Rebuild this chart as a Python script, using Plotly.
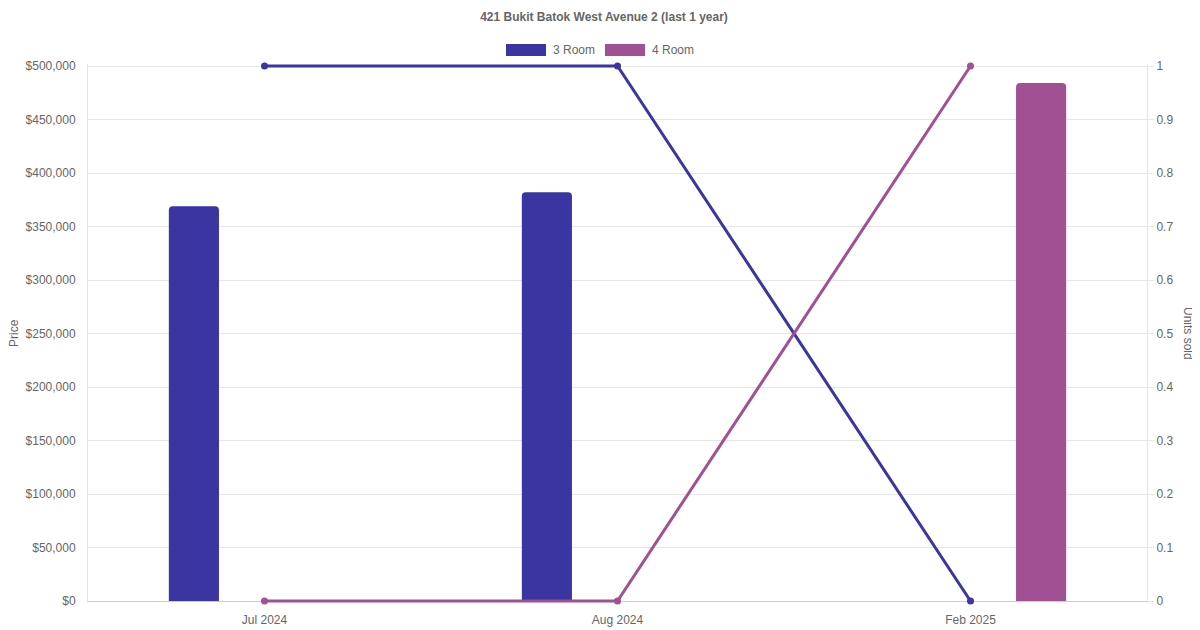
import plotly.graph_objects as go

# data
months = ["Jul 2024", "Aug 2024", "Feb 2025"]
room_types = ["3 Room", "4 Room"]
price_3room = [369000, 382000, None]
price_4room = [None, None, 484000]
units_3room = [1, 1, 0]
units_4room = [0, 0, 1]
colors = ["#3a35a0", "#a05093"]

# the page body adds an 8px margin, so the figure is drawn 8px in and shrunk to fit
OFF = 8
# 2px of padding above and below the value range so lines at 0 and 1 are not clipped
PAD = 2
W, H = 1200 - OFF, 630 - OFF
L, R, T, B = 88 - OFF, 53, 66 - PAD - OFF, 29 - PAD
pw, ph = W - L - R, H - T - B
pad = PAD / (ph - 2 * PAD)


def px_x(x):
    # window pixel x -> paper x
    return (x - OFF - L) / pw


def px_y(y):
    # window pixel y -> paper y
    return (OFF + H - B - y) / ph


fig = go.Figure()

for name, vals, col in zip(room_types, [price_3room, price_4room], colors):
    fig.add_trace(go.Bar(
        x=months, y=vals, name=name,
        marker=dict(color=col, line=dict(width=0)),
        showlegend=False,
    ))

for name, vals, col in zip(room_types, [units_3room, units_4room], colors):
    fig.add_trace(go.Scatter(
        x=months, y=vals, name=name, yaxis="y2",
        mode="lines+markers",
        line=dict(color=col, width=3),
        marker=dict(color=col, size=7),
        cliponaxis=False,
        showlegend=False,
    ))

font_col = "#666666"
grid_col = "#e6e6e6"

# hand-made legend (wide colour boxes like the original)
shapes = []
annotations = []
legend_x = [506, 605]
for name, col, x0 in zip(room_types, colors, legend_x):
    shapes.append(dict(
        type="rect", xref="paper", yref="paper",
        x0=px_x(x0), x1=px_x(x0 + 40), y0=px_y(56), y1=px_y(44),
        fillcolor=col, line=dict(width=0),
    ))
    annotations.append(dict(
        text=name, xref="paper", yref="paper",
        x=px_x(x0 + 45), y=px_y(50), xanchor="left", yanchor="middle",
        showarrow=False, font=dict(size=12, color=font_col),
    ))

annotations.append(dict(
    text="Price", xref="paper", yref="paper", x=px_x(14), y=px_y(333),
    xanchor="center", yanchor="middle",
    textangle=-90, showarrow=False, font=dict(size=12, color=font_col),
))
annotations.append(dict(
    text="Units sold", xref="paper", yref="paper", x=px_x(1188), y=px_y(333),
    xanchor="center", yanchor="middle",
    textangle=90, showarrow=False, font=dict(size=12, color=font_col),
))

fig.update_layout(
    width=W, height=H,
    margin=dict(l=L, r=R, t=T, b=B),
    paper_bgcolor="white", plot_bgcolor="white",
    font=dict(family="Liberation Sans, Arial, sans-serif", size=12, color=font_col),
    title=dict(
        text="<b>421 Bukit Batok West Avenue 2 (last 1 year)</b>",
        x=0.5, xanchor="center", y=1 - (17 - OFF) / H, yanchor="middle",
        font=dict(size=12, color=font_col),
    ),
    barmode="group",
    bargap=0.2,
    bargroupgap=0.645,
    barcornerradius=4,
    showlegend=False,
    xaxis=dict(
        type="category", range=[-0.5, 2.5],
        showgrid=False, showline=False, automargin=False,
        # invisible ticks just to push the labels down like the original
        ticks="outside", ticklen=6, tickcolor="rgba(0,0,0,0)",
        tickfont=dict(size=12, color=font_col),
        zeroline=False,
    ),
    yaxis=dict(
        range=[-500000 * pad, 500000 * (1 + pad)], dtick=50000, tick0=0,
        tickprefix="$", tickformat=",", automargin=False,
        showgrid=True, gridcolor=grid_col, gridwidth=1,
        showline=True, linecolor=grid_col, linewidth=1,
        zeroline=True, zerolinecolor="#cccccc", zerolinewidth=1,
        ticks="", ticklabelstandoff=9,
        tickfont=dict(size=12, color=font_col),
    ),
    yaxis2=dict(
        overlaying="y", side="right", range=[-pad, 1 + pad], dtick=0.1, tick0=0,
        showgrid=False, showline=True, linecolor=grid_col, linewidth=1,
        zeroline=False, ticks="outside", ticklen=6, tickcolor=grid_col,
        automargin=False,
        tickfont=dict(size=12, color=font_col),
    ),
    shapes=shapes,
    annotations=annotations,
)

fig.write_html("out.html")
